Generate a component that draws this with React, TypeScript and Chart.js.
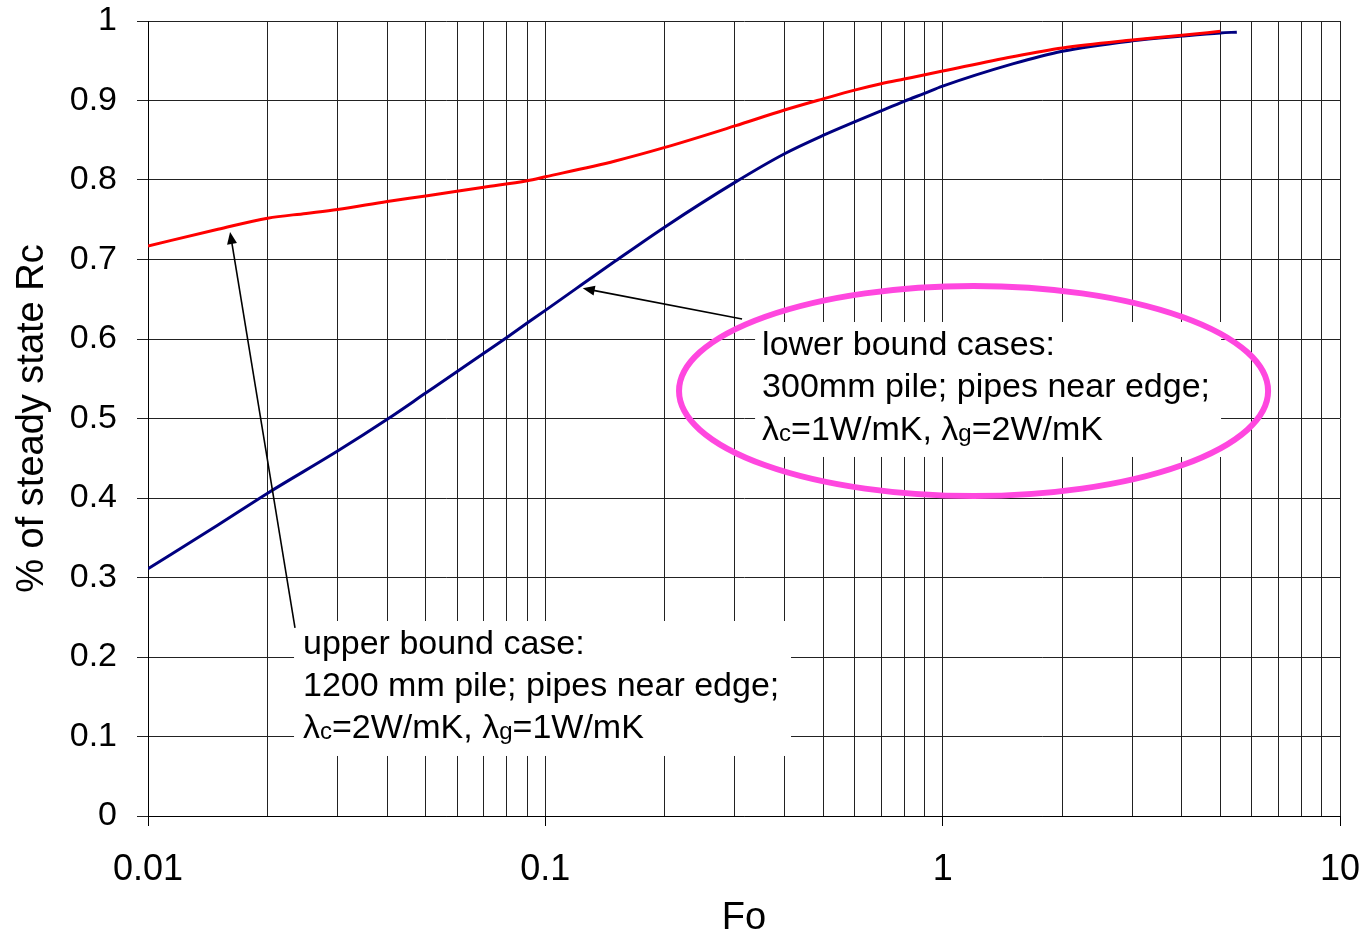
import React, { useEffect, useRef } from 'react';
import { Chart, registerables } from 'chart.js';

Chart.register(...registerables);

// ---- data ----
const FO_UPPER = [0.01, 0.015, 0.02, 0.025, 0.03, 0.04, 0.05, 0.07, 0.09, 0.1, 0.15, 0.2, 0.3, 0.4, 0.5, 0.6, 0.7, 0.8, 1, 1.5, 2, 3, 4, 5];
const RC_UPPER = [0.717, 0.738, 0.752, 0.758, 0.763, 0.773, 0.780, 0.791, 0.799, 0.804, 0.824, 0.841, 0.868, 0.888, 0.902, 0.913, 0.921, 0.927, 0.937, 0.955, 0.966, 0.976, 0.982, 0.987];

const FO_LOWER = [0.01, 0.015, 0.02, 0.03, 0.04, 0.05, 0.06, 0.07, 0.08, 0.09, 0.1, 0.12, 0.15, 0.2, 0.3, 0.4, 0.5, 0.6, 0.7, 0.8, 0.9, 1, 1.5, 2, 3, 4, 5, 5.5];
const RC_LOWER = [0.311, 0.366, 0.406, 0.459, 0.499, 0.532, 0.559, 0.582, 0.602, 0.62, 0.636, 0.664, 0.698, 0.741, 0.797, 0.833, 0.856, 0.873, 0.887, 0.899, 0.909, 0.918, 0.946, 0.962, 0.975, 0.981, 0.985, 0.986];

const X_MAJOR_TICKS = [0.01, 0.1, 1, 10];
const X_TICK_LABELS = ['0.01', '0.1', '1', '10'];
const X_MINOR_STEPS = [2, 3, 4, 5, 6, 7, 8, 9];
const Y_TICK_VALUES = [0, 0.1, 0.2, 0.3, 0.4, 0.5, 0.6, 0.7, 0.8, 0.9, 1];
const Y_TICK_LABELS = ['0', '0.1', '0.2', '0.3', '0.4', '0.5', '0.6', '0.7', '0.8', '0.9', '1'];

const X_TITLE = 'Fo';
const Y_TITLE = '% of steady state Rc';

// annotation text: segments, sub = small subscript-like letter
type Seg = { t: string; sub?: boolean };
const UPPER_NOTE: Seg[][] = [
  [{ t: 'upper bound case:' }],
  [{ t: '1200 mm pile; pipes near edge;' }],
  [{ t: 'λ' }, { t: 'c', sub: true }, { t: '=2W/mK, ' }, { t: 'λ' }, { t: 'g', sub: true }, { t: '=1W/mK' }],
];
const LOWER_NOTE: Seg[][] = [
  [{ t: 'lower bound cases:' }],
  [{ t: '300mm pile; pipes near edge;' }],
  [{ t: 'λ' }, { t: 'c', sub: true }, { t: '=1W/mK, ' }, { t: 'λ' }, { t: 'g', sub: true }, { t: '=2W/mK' }],
];

// annotation anchors in data coordinates
const UPPER_BOX = { x0: 0.02331, x1: 0.4153, y0: 0.2453, y1: 0.0755, tx: 0.02455, baselines: [0.2038, 0.1509, 0.0981] };
const LOWER_BOX = { x0: 0.3372, x1: 5.02, y0: 0.6214, y1: 0.4516, tx: 0.3512, baselines: [0.5799, 0.527, 0.473] };
const UPPER_ARROW = { from: [0.02344, 0.2365], to: [0.01609, 0.7346] };
const LOWER_ARROW = { from: [0.3127, 0.6252], to: [0.1242, 0.6638] };
const ELLIPSE = { x0: 0.217, x1: 6.592, y0: 0.6667, y1: 0.4025 };

const FONT = '"Liberation Sans", Arial, sans-serif';

const notesPlugin = {
  id: 'notes',
  afterDatasetsDraw(chart: any) {
    const { ctx } = chart;
    const xs = chart.scales.x;
    const ys = chart.scales.y;
    const px = (v: number) => xs.getPixelForValue(v);
    const py = (v: number) => ys.getPixelForValue(v);
    ctx.save();

    const drawNote = (box: any, lines: Seg[][]) => {
      const l = px(box.x0), r = px(box.x1), t = py(box.y0), b = py(box.y1);
      ctx.fillStyle = '#ffffff';
      ctx.fillRect(l, t, r - l, b - t);
      ctx.fillStyle = '#000000';
      ctx.textBaseline = 'alphabetic';
      ctx.textAlign = 'left';
      lines.forEach((segs, i) => {
        let cx = px(box.tx);
        const by = py(box.baselines[i]);
        segs.forEach((s) => {
          ctx.font = s.sub ? `24px ${FONT}` : `34px ${FONT}`;
          ctx.fillText(s.t, cx, by + (s.sub ? 1 : 0));
          cx += ctx.measureText(s.t).width;
        });
      });
    };
    drawNote(UPPER_BOX, UPPER_NOTE);
    drawNote(LOWER_BOX, LOWER_NOTE);

    const drawArrow = (a: any) => {
      const x1 = px(a.from[0]), y1 = py(a.from[1]);
      const x2 = px(a.to[0]), y2 = py(a.to[1]);
      const ang = Math.atan2(y2 - y1, x2 - x1);
      const hl = 12, hw = 5;
      ctx.strokeStyle = '#000';
      ctx.lineWidth = 1.6;
      ctx.beginPath();
      ctx.moveTo(x1, y1);
      ctx.lineTo(x2 - Math.cos(ang) * hl * 0.8, y2 - Math.sin(ang) * hl * 0.8);
      ctx.stroke();
      ctx.fillStyle = '#000';
      ctx.beginPath();
      ctx.moveTo(x2, y2);
      ctx.lineTo(x2 - Math.cos(ang) * hl - Math.sin(ang) * hw, y2 - Math.sin(ang) * hl + Math.cos(ang) * hw);
      ctx.lineTo(x2 - Math.cos(ang) * hl + Math.sin(ang) * hw, y2 - Math.sin(ang) * hl - Math.cos(ang) * hw);
      ctx.closePath();
      ctx.fill();
    };
    drawArrow(UPPER_ARROW);
    drawArrow(LOWER_ARROW);

    const el = px(ELLIPSE.x0), er = px(ELLIPSE.x1), et = py(ELLIPSE.y0), eb = py(ELLIPSE.y1);
    ctx.strokeStyle = '#FF47DF';
    ctx.lineWidth = 6;
    ctx.beginPath();
    ctx.ellipse((el + er) / 2, (et + eb) / 2, (er - el) / 2, (eb - et) / 2, 0, 0, Math.PI * 2);
    ctx.stroke();

    ctx.restore();
  },
};

export default function App() {
  const ref = useRef<HTMLCanvasElement | null>(null);

  useEffect(() => {
    if (!ref.current) return;
    const xGrid: { value: number; label: string; major: boolean }[] = [];
    X_MAJOR_TICKS.forEach((m, i) => {
      xGrid.push({ value: m, label: X_TICK_LABELS[i], major: true });
      if (i < X_MAJOR_TICKS.length - 1) {
        X_MINOR_STEPS.forEach((s) => xGrid.push({ value: m * s, label: '', major: false }));
      }
    });

    const chart = new Chart(ref.current, {
      type: 'line',
      data: {
        datasets: [
          {
            label: 'upper',
            data: FO_UPPER.map((x, i) => ({ x, y: RC_UPPER[i] })),
            borderColor: '#FF0000',
            borderWidth: 3,
            pointRadius: 0,
            fill: false,
            cubicInterpolationMode: 'monotone',
          },
          {
            label: 'lower',
            data: FO_LOWER.map((x, i) => ({ x, y: RC_LOWER[i] })),
            borderColor: '#000080',
            borderWidth: 3,
            pointRadius: 0,
            fill: false,
            cubicInterpolationMode: 'monotone',
          },
        ],
      },
      options: {
        responsive: false,
        animation: false,
        devicePixelRatio: 1,
        layout: { padding: { top: 21, right: 28, left: 0, bottom: 0 } },
        plugins: { legend: { display: false }, tooltip: { enabled: false } },
        scales: {
          x: {
            type: 'logarithmic',
            min: 0.01,
            max: 10,
            afterBuildTicks: (scale: any) => {
              scale.ticks = xGrid.map((g) => ({ value: g.value, major: false }));
            },
            afterFit: (scale: any) => {
              scale.height = 123;
              scale.paddingLeft = 0;
              scale.paddingRight = 0;
            },
            ticks: {
              autoSkip: false,
              maxRotation: 0,
              minRotation: 0,
              padding: 22,
              color: '#000',
              font: { family: FONT, size: 36 },
              callback: (_v: any, i: number) => xGrid[i]?.label ?? '',
            },
            grid: {
              color: '#222',
              lineWidth: 1,
              tickLength: 10,
              tickColor: (ctx: any) => (xGrid[ctx.index]?.major ? '#000' : 'rgba(0,0,0,0)'),
            },
            border: { color: '#000', width: 1 },
            title: {
              display: true,
              text: X_TITLE,
              color: '#000',
              font: { family: FONT, size: 38 },
              padding: { top: 0, bottom: -2 },
            },
          },
          y: {
            type: 'linear',
            min: 0,
            max: 1,
            afterBuildTicks: (scale: any) => {
              scale.ticks = Y_TICK_VALUES.map((v) => ({ value: v }));
            },
            afterFit: (scale: any) => {
              scale.width = 148;
              scale.paddingTop = 0;
              scale.paddingBottom = 0;
            },
            ticks: {
              padding: 20,
              color: '#000',
              font: { family: FONT, size: 34 },
              callback: (_v: any, i: number) => Y_TICK_LABELS[i],
            },
            grid: { color: '#222', lineWidth: 1, tickLength: 11, tickColor: '#222' },
            border: { color: '#000', width: 1 },
            title: {
              display: true,
              text: Y_TITLE,
              color: '#000',
              font: { family: FONT, size: 38 },
              padding: { top: 10, bottom: 0 },
            },
          },
        },
      },
      plugins: [notesPlugin],
    } as any);
    return () => chart.destroy();
  }, []);

  return (
    <div style={{ position: 'absolute', left: 0, top: 0, width: 1368, height: 939, background: '#fff' }}>
      <canvas ref={ref} width={1368} height={939} style={{ display: 'block', width: 1368, height: 939 }} />
    </div>
  );
}
